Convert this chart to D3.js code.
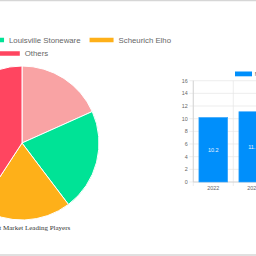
<!DOCTYPE html>
<html>
<head>
<meta charset="utf-8">
<script src="https://cdn.jsdelivr.net/npm/d3@7"></script>
<style>
  html, body { margin: 0; padding: 0; background: #fff; }
  svg { display: block; }
</style>
</head>
<body>
<div id="main-frame"></div>
<script>
// pie: leading players share
const players = ["The HC Companies Inc", "Louisville Stoneware", "Scheurich Elho", "Others"];
const shares = [18.3, 21.4, 19.5, 40.8];
const playerColors = ["#F9A3A4", "#00E396", "#FEB019", "#FF4560"];
const pieTitle = "Plant Pot Market Leading Players";

// bars: market size by year
const years = ["2022", "2023", "2024"];
const marketSize = [10.2, 11.1, null];
const barSeries = "Market Size";
const yTicks = [0, 2, 4, 6, 8, 10, 12, 14, 16];

const W = 256, H = 256;

const svg = d3.select("#main-frame")
  .append("svg")
  .attr("width", W)
  .attr("height", H);

// page separators
svg.append("line").attr("x1", 0).attr("x2", W).attr("y1", 0.5).attr("y2", 0.5)
  .attr("stroke", "#d6d6d6").attr("stroke-width", 1.5);
svg.append("line").attr("x1", 0).attr("x2", W).attr("y1", 255).attr("y2", 255)
  .attr("stroke", "#d6d6d6").attr("stroke-width", 1.5);

// ---- pie ----
const cx = 22, cy = 143, r = 77;
const pieData = players.map((p, i) => ({ name: p, value: shares[i], color: playerColors[i] }));
const pie = d3.pie().sort(null).value(d => d.value);
const arc = d3.arc().innerRadius(0).outerRadius(r);

const pieG = svg.append("g").attr("transform", `translate(${cx}, ${cy})`);
pieG.selectAll("path")
  .data(pie(pieData))
  .enter()
  .append("path")
  .attr("d", arc)
  .attr("fill", d => d.data.color)
  .attr("stroke", "#fff")
  .attr("stroke-width", 1);

svg.append("text")
  .attr("x", cx + 1)
  .attr("y", 229.5)
  .attr("text-anchor", "middle")
  .attr("font-family", "Liberation Serif, serif")
  .attr("font-size", 7)
  .attr("fill", "#333")
  .text(pieTitle);

// legend, rows centred on pie
const legendFont = "Liberation Sans, Arial, sans-serif";
const legendSize = 7.8;
const boxW = 24, boxH = 4.5, boxGap = 5, itemGap = 9;
const rows = [[0, 1, 2], [3]];
const rowY = [40, 53.5];
const rowShift = [-6, 0];
const measure = svg.append("text").attr("font-family", legendFont).attr("font-size", legendSize).attr("visibility", "hidden");
const textW = players.map(p => { measure.text(p); return measure.node().getComputedTextLength(); });
measure.remove();

rows.forEach((row, ri) => {
  const widths = row.map(i => boxW + boxGap + textW[i]);
  const total = d3.sum(widths) + itemGap * (row.length - 1);
  let x = cx + rowShift[ri] - total / 2;
  row.forEach((i, k) => {
    const g = svg.append("g");
    g.append("rect")
      .attr("x", x).attr("y", rowY[ri] - boxH / 2)
      .attr("width", boxW).attr("height", boxH)
      .attr("fill", playerColors[i]);
    g.append("text")
      .attr("x", x + boxW + boxGap)
      .attr("y", rowY[ri])
      .attr("dy", "0.35em")
      .attr("font-family", legendFont)
      .attr("font-size", legendSize)
      .attr("fill", "#666")
      .text(players[i]);
    x += widths[k] + itemGap;
  });
});

// ---- bars ----
const plotLeft = 193.3, plotTop = 80.7, plotBottom = 182;
const xScale = d3.scaleBand()
  .domain(years)
  .range([plotLeft, plotLeft + 40 * years.length])
  .paddingInner(0.28)
  .paddingOuter(0.14);
const yScale = d3.scaleLinear().domain([0, 16]).range([plotBottom, plotTop]);
const step = xScale.step();

const grid = svg.append("g").attr("stroke", "#e6e6e6").attr("stroke-width", 0.7);
yTicks.forEach(t => {
  grid.append("line")
    .attr("x1", plotLeft - 4).attr("x2", W)
    .attr("y1", yScale(t)).attr("y2", yScale(t));
});
years.forEach((y, i) => {
  const gx = plotLeft + step * i;
  grid.append("line")
    .attr("x1", gx).attr("x2", gx)
    .attr("y1", plotTop).attr("y2", plotBottom + 4);
});
grid.append("line").attr("x1", plotLeft + step * years.length).attr("x2", plotLeft + step * years.length)
  .attr("y1", plotTop).attr("y2", plotBottom + 4);

// axis lines a bit darker
svg.append("line").attr("x1", plotLeft).attr("x2", plotLeft).attr("y1", plotTop).attr("y2", plotBottom)
  .attr("stroke", "#d0d0d0").attr("stroke-width", 0.8);
svg.append("line").attr("x1", plotLeft).attr("x2", W).attr("y1", plotBottom).attr("y2", plotBottom)
  .attr("stroke", "#d0d0d0").attr("stroke-width", 0.8);

svg.append("g")
  .selectAll("text")
  .data(yTicks)
  .enter()
  .append("text")
  .attr("x", plotLeft - 5.5)
  .attr("y", d => yScale(d))
  .attr("dy", "0.35em")
  .attr("text-anchor", "end")
  .attr("font-family", legendFont)
  .attr("font-size", 5.4)
  .attr("fill", "#666")
  .text(d => d);

svg.append("g")
  .selectAll("text")
  .data(years)
  .enter()
  .append("text")
  .attr("x", d => xScale(d) + xScale.bandwidth() / 2)
  .attr("y", 188.5)
  .attr("dy", "0.35em")
  .attr("text-anchor", "middle")
  .attr("font-family", legendFont)
  .attr("font-size", 5.4)
  .attr("fill", "#666")
  .text(d => d);

const barData = years.map((y, i) => ({ year: y, value: marketSize[i] })).filter(d => d.value != null);

svg.append("g")
  .selectAll("rect")
  .data(barData)
  .enter()
  .append("rect")
  .attr("x", d => xScale(d.year))
  .attr("y", d => yScale(d.value))
  .attr("width", xScale.bandwidth())
  .attr("height", d => plotBottom - yScale(d.value))
  .attr("fill", "#008FFB")
  .attr("stroke", "#3aa6fb")
  .attr("stroke-width", 0.6);

svg.append("g")
  .selectAll("text")
  .data(barData)
  .enter()
  .append("text")
  .attr("x", d => xScale(d.year) + xScale.bandwidth() / 2)
  .attr("y", d => (yScale(d.value) + plotBottom) / 2)
  .attr("dy", "0.35em")
  .attr("text-anchor", "middle")
  .attr("font-family", legendFont)
  .attr("font-size", 5.5)
  .attr("fill", "#e8f3ff")
  .text(d => d.value);

// bar legend
svg.append("rect")
  .attr("x", 235).attr("y", 71.5)
  .attr("width", 17).attr("height", 4.8)
  .attr("fill", "#008FFB");
svg.append("text")
  .attr("x", 254.7).attr("y", 74)
  .attr("dy", "0.35em")
  .attr("font-family", legendFont)
  .attr("font-size", 5.5)
  .attr("fill", "#666")
  .text(barSeries);
</script>
</body>
</html>
